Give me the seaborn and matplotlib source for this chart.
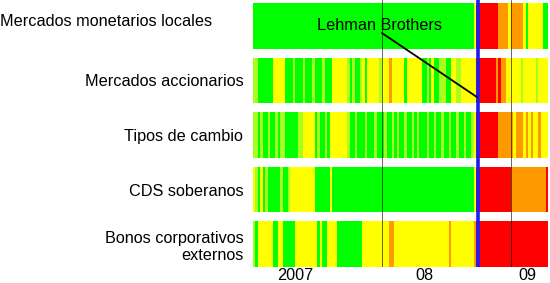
import matplotlib
matplotlib.use("Agg")
import matplotlib.pyplot as plt
from matplotlib.colors import ListedColormap
import numpy as np
import pandas as pd
import seaborn as sns

# ---------------- data ----------------
row_labels = ["Mercados monetarios locales", "Mercados accionarios",
              "Tipos de cambio", "CDS soberanos", "Bonos corporativos\nexternos"]

# weekly stress level, Jan 2007 - mid Apr 2009 (run-length: level, weeks)
# G = bajo, L = bajo-medio, Y = medio, O = alto, R = muy alto
monetarios_runs = [("G", 89), ("Y", 1), ("R", 9), ("O", 4), ("Y", 1), ("O", 5),
                   ("Y", 1), ("G", 1), ("Y", 6), ("G", 2)]
accionarios_runs = [("L", 2), ("G", 6), ("Y", 5), ("G", 3), ("L", 1), ("G", 3), ("L", 1),
                    ("G", 3), ("L", 1), ("G", 3), ("L", 1), ("G", 3), ("Y", 6), ("L", 1),
                    ("G", 1), ("L", 1), ("G", 2), ("L", 1), ("Y", 1), ("G", 1), ("Y", 5),
                    ("L", 1), ("Y", 3), ("O", 1), ("Y", 5), ("G", 1), ("Y", 6), ("G", 2),
                    ("L", 1), ("G", 1), ("Y", 1), ("G", 2), ("L", 3), ("G", 2), ("Y", 2),
                    ("L", 2), ("Y", 6), ("R", 8), ("O", 1), ("R", 1), ("O", 2), ("Y", 6),
                    ("L", 1), ("Y", 5), ("L", 1), ("Y", 4)]
cambio_runs = [("L", 2), ("G", 1), ("L", 1), ("G", 2), ("L", 1), ("G", 2), ("L", 1), ("G", 1),
               ("L", 2), ("G", 5), ("L", 2), ("Y", 5), ("G", 1), ("L", 1), ("G", 2), ("L", 1),
               ("G", 1), ("Y", 7), ("L", 1), ("G", 2), ("L", 1), ("G", 3), ("L", 1), ("G", 3),
               ("L", 1), ("G", 3), ("L", 1), ("G", 2), ("L", 1), ("G", 1), ("L", 1), ("G", 2),
               ("L", 1), ("G", 2), ("L", 1), ("G", 1), ("L", 1), ("G", 3), ("L", 1), ("G", 2),
               ("L", 1), ("G", 2), ("L", 1), ("G", 2), ("L", 1), ("G", 2), ("L", 1), ("G", 2),
               ("L", 1), ("G", 2), ("L", 1), ("Y", 1), ("R", 9), ("O", 6), ("Y", 1), ("O", 3),
               ("Y", 1), ("O", 1), ("Y", 1), ("O", 1), ("Y", 2), ("O", 1), ("Y", 3)]
cds_runs = [("Y", 1), ("L", 1), ("G", 1), ("Y", 1), ("G", 1), ("L", 1), ("G", 5), ("L", 1),
            ("G", 2), ("L", 1), ("Y", 10), ("G", 6), ("Y", 1), ("G", 57), ("Y", 1),
            ("R", 14), ("O", 14), ("R", 1)]
bonos_runs = [("L", 1), ("G", 1), ("Y", 6), ("G", 2), ("Y", 2), ("G", 5), ("Y", 9), ("G", 1),
              ("Y", 1), ("G", 2), ("Y", 4), ("G", 10), ("Y", 11), ("O", 2), ("Y", 22),
              ("O", 1), ("Y", 9), ("O", 1), ("R", 29)]

level_codes = {"G": 0, "L": 1, "Y": 2, "O": 3, "R": 4}
level_colors = ["#00FF00", "#A8FF1E", "#FFFF00", "#FF9900", "#FF0000"]

year_bounds = [52, 104]                 # week index of 1 Jan 2008 / 1 Jan 2009
year_labels = ["2007", "08", "09"]
year_label_pos = [16.9, 69.0, 110.5]
lehman_week = 90.7
lehman_label = "Lehman Brothers"


def expand(runs):
    return [level_codes[c] for c, n in runs for _ in range(n)]


rows = [expand(r) for r in (monetarios_runs, accionarios_runs, cambio_runs,
                            cds_runs, bonos_runs)]
n_weeks = len(rows[0])
weeks = pd.date_range("2007-01-01", periods=n_weeks, freq="W-MON")

# ---------------- figure ----------------
sns.set_style("white")
plt.rcParams["font.family"] = ["Liberation Sans", "DejaVu Sans"]
plt.rcParams["text.color"] = "black"
plt.rcParams["xtick.color"] = "black"
plt.rcParams["ytick.color"] = "black"
FS = 11.7

W, H = 550, 283
fig = plt.figure(figsize=(W / 100, H / 100), dpi=100)
x0, x1 = 253 / W, 548 / W
ytop, ybot = 1 - 3 / H, 1 - 267 / H
gs = fig.add_gridspec(5, 1, left=x0, right=x1, top=ytop, bottom=ybot, hspace=0.197)
cmap = ListedColormap(level_colors)

axes = []
for i, (label, vals) in enumerate(zip(row_labels, rows)):
    ax = fig.add_subplot(gs[i, 0])
    df = pd.DataFrame([vals], index=[label], columns=weeks)
    sns.heatmap(df, ax=ax, cmap=cmap, vmin=-0.5, vmax=4.5, cbar=False,
                xticklabels=False, yticklabels=False, linewidths=0)
    ax.set_xlabel("")
    ax.set_ylabel("")
    if i == 0:
        ax.set_yticks([])
        fig.text(0.0, 1 - 21 / H, label, ha="left", va="center", fontsize=FS,
                 color="black")
    else:
        ax.set_yticks([0.5])
        ax.set_yticklabels([label], rotation=0, fontsize=FS, color="black")
        for t in ax.get_yticklabels():
            t.set_multialignment("right")
        ax.tick_params(axis="y", length=0, pad=7)
    axes.append(ax)

axb = axes[-1]
axb.set_xticks(year_label_pos)
axb.set_xticklabels(year_labels, rotation=0, fontsize=FS, color="black")
axb.tick_params(axis="x", length=0, pad=1)

# overlay for vertical lines and annotation
ov = fig.add_axes([x0, 1 - 267 / H, x1 - x0, 267 / H], facecolor="none")
ov.set_xlim(0, n_weeks)
ov.set_ylim(267, 0)
ov.axis("off")
for b in year_bounds:
    ov.axvline(b, color="black", lw=0.7, alpha=0.6)
ov.axvline(lehman_week, color="#1E1EF0", lw=2.6)
ov.plot([52.0, lehman_week - 0.4], [33, 97], color="black", lw=1.3)
ov.text(51.2, 26, lehman_label, ha="center", va="center", fontsize=FS, color="black")

fig.savefig("out.png", dpi=100)
